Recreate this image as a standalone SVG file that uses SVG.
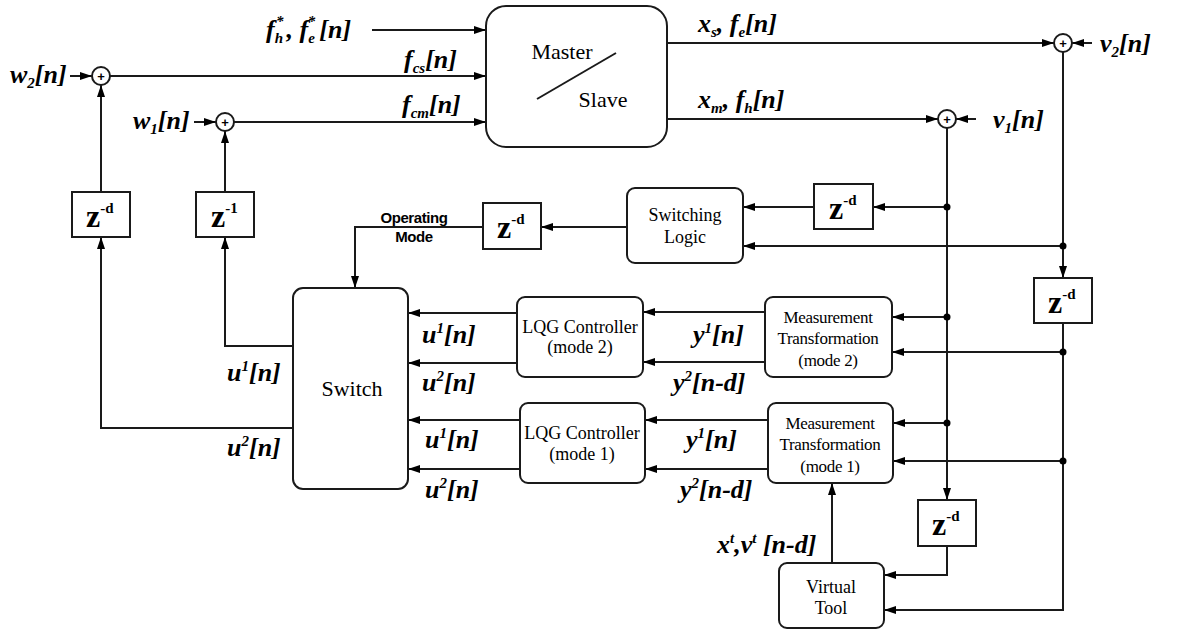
<svg xmlns="http://www.w3.org/2000/svg" width="1180" height="633" viewBox="0 0 1180 633">
<defs>
<marker id="ah" viewBox="0 0 12 8" refX="12" refY="4" markerWidth="12" markerHeight="8" markerUnits="userSpaceOnUse" orient="auto">
<path d="M0,0 L12,4 L0,8 z" fill="#000"/>
</marker>
<style>
.box{fill:#fff;stroke:#1a1a1a;stroke-width:2}
.ln{fill:none;stroke:#1a1a1a;stroke-width:2}
.ar{fill:none;stroke:#1a1a1a;stroke-width:2;marker-end:url(#ah)}
.dot{fill:#000}
.m{font-style:italic;font-weight:bold;font-size:26px;fill:#000}
.s{font-size:15px}
.t{font-size:18px;fill:#000;text-anchor:middle}
.tb{font-size:22px;fill:#000;text-anchor:middle}
.mt{font-size:17px;fill:#000;text-anchor:middle;letter-spacing:-0.3px}
.z{font-weight:bold;font-size:32px;fill:#000}
.zs{font-size:15px}
.op{font-weight:bold;font-size:15px;fill:#000;text-anchor:middle;letter-spacing:-0.4px}
.plus{font-size:13px;font-weight:bold;fill:#000;text-anchor:middle}
</style>
</defs>

<g id="connectors">
<line class="ar" x1="372" y1="30" x2="486" y2="30"/>
<line class="ar" x1="70" y1="76" x2="92" y2="76"/>
<line class="ar" x1="110" y1="76" x2="486" y2="76"/>
<line class="ar" x1="194" y1="122" x2="216" y2="122"/>
<line class="ar" x1="234" y1="122" x2="486" y2="122"/>
<line class="ar" x1="667" y1="43" x2="1054" y2="43"/>
<line class="ar" x1="1092" y1="43" x2="1072" y2="43"/>
<line class="ar" x1="667" y1="119" x2="938" y2="119"/>
<line class="ar" x1="976" y1="119" x2="956" y2="119"/>
<line class="ar" x1="947" y1="128" x2="947" y2="500"/>
<line class="ar" x1="1063" y1="52" x2="1063" y2="278"/>
<line class="ar" x1="947" y1="207" x2="873" y2="207"/>
<line class="ar" x1="814" y1="207" x2="743" y2="207"/>
<line class="ar" x1="1063" y1="246" x2="743" y2="246"/>
<line class="ar" x1="627" y1="227" x2="541" y2="227"/>
<polyline class="ar" points="483,227 355,227 355,288"/>
<line class="ar" x1="947" y1="317" x2="892" y2="317"/>
<polyline class="ar" points="1063,323 1063,610 884,610"/>
<line class="ar" x1="1063" y1="352" x2="892" y2="352"/>
<line class="ar" x1="765" y1="312" x2="643" y2="312"/>
<line class="ar" x1="765" y1="362" x2="643" y2="362"/>
<line class="ar" x1="517" y1="313" x2="408" y2="313"/>
<line class="ar" x1="517" y1="363" x2="408" y2="363"/>
<line class="ar" x1="947" y1="423" x2="893" y2="423"/>
<line class="ar" x1="1063" y1="461" x2="893" y2="461"/>
<line class="ar" x1="768" y1="420" x2="645" y2="420"/>
<line class="ar" x1="768" y1="469" x2="645" y2="469"/>
<line class="ar" x1="520" y1="420" x2="408" y2="420"/>
<line class="ar" x1="520" y1="469" x2="408" y2="469"/>
<polyline class="ar" points="947,546 947,575 884,575"/>
<line class="ar" x1="832" y1="563" x2="832" y2="483"/>
<polyline class="ar" points="293,346 225,346 225,237"/>
<polyline class="ar" points="293,428 101,428 101,237"/>
<line class="ar" x1="101" y1="192" x2="101" y2="85"/>
<line class="ar" x1="225" y1="192" x2="225" y2="131"/>
<circle class="dot" cx="947" cy="207" r="3.5"/>
<circle class="dot" cx="947" cy="317" r="3.5"/>
<circle class="dot" cx="947" cy="423" r="3.5"/>
<circle class="dot" cx="1063" cy="246" r="3.5"/>
<circle class="dot" cx="1063" cy="352" r="3.5"/>
<circle class="dot" cx="1063" cy="461" r="3.5"/>
</g>

<g font-family="Liberation Sans, Arial, sans-serif">
<g id="sum-w2"><circle class="box" cx="101" cy="76" r="9"/><text class="plus" x="101" y="81">+</text></g>
<g id="sum-w1"><circle class="box" cx="225" cy="122" r="9"/><text class="plus" x="225" y="127">+</text></g>
<g id="sum-v2"><circle class="box" cx="1063" cy="43" r="9"/><text class="plus" x="1063" y="48">+</text></g>
<g id="sum-v1"><circle class="box" cx="947" cy="119" r="9"/><text class="plus" x="947" y="124">+</text></g>
<g id="operating-mode-label">
<text class="op" x="414" y="223">Operating</text>
<text class="op" x="414" y="242">Mode</text>
</g>
</g>

<g font-family="Liberation Serif, DejaVu Serif, serif">
<g id="master-slave">
<rect class="box" x="486" y="6" width="181" height="141" rx="20"/>
<text class="tb" x="562" y="59">Master</text>
<line class="ln" x1="537" y1="99" x2="616" y2="53"/>
<text class="tb" x="603" y="107">Slave</text>
</g>

<g id="delay-w2"><rect class="box" x="72" y="192" width="58" height="45"/><text class="z" x="86" y="227">z<tspan class="zs" dy="-14">-d</tspan></text></g>
<g id="delay-w1"><rect class="box" x="196" y="192" width="58" height="45"/><text class="z" x="211" y="227">z<tspan class="zs" dy="-14">-1</tspan></text></g>
<g id="delay-mode"><rect class="box" x="483" y="203" width="58" height="46"/><text class="z" x="497" y="238">z<tspan class="zs" dy="-14">-d</tspan></text></g>
<g id="delay-sl"><rect class="box" x="814" y="184" width="59" height="45"/><text class="z" x="829" y="219">z<tspan class="zs" dy="-14">-d</tspan></text></g>
<g id="delay-right"><rect class="box" x="1034" y="278" width="58" height="45"/><text class="z" x="1048" y="313">z<tspan class="zs" dy="-14">-d</tspan></text></g>
<g id="delay-vt"><rect class="box" x="918" y="500" width="58" height="46"/><text class="z" x="932" y="535">z<tspan class="zs" dy="-14">-d</tspan></text></g>

<g id="switching-logic">
<rect class="box" x="627" y="188" width="116" height="75" rx="8"/>
<text class="t" x="685" y="221">Switching</text>
<text class="t" x="685" y="243">Logic</text>
</g>

<g id="switch">
<rect class="box" x="293" y="288" width="115" height="201" rx="10"/>
<text class="tb" x="352" y="396">Switch</text>
</g>

<g id="lqg2">
<rect class="box" x="517" y="297" width="126" height="80" rx="8"/>
<text class="t" x="580" y="333">LQG Controller</text>
<text class="t" x="580" y="353">(mode 2)</text>
</g>
<g id="lqg1">
<rect class="box" x="520" y="403" width="125" height="80" rx="8"/>
<text class="t" x="582" y="439">LQG Controller</text>
<text class="t" x="582" y="460">(mode 1)</text>
</g>
<g id="mt2">
<rect class="box" x="765" y="297" width="127" height="80" rx="8"/>
<text class="mt" x="828" y="323">Measurement</text>
<text class="mt" x="828" y="344">Transformation</text>
<text class="mt" x="828" y="366">(mode 2)</text>
</g>
<g id="mt1">
<rect class="box" x="768" y="403" width="125" height="80" rx="8"/>
<text class="mt" x="830" y="429">Measurement</text>
<text class="mt" x="830" y="450">Transformation</text>
<text class="mt" x="830" y="472">(mode 1)</text>
</g>
<g id="virtual-tool">
<rect class="box" x="779" y="563" width="105" height="65" rx="8"/>
<text class="t" x="831" y="593">Virtual</text>
<text class="t" x="831" y="614">Tool</text>
</g>

<g id="labels">
<text class="m" x="266" y="38">f<tspan class="s" dy="5">h</tspan><tspan class="s" dx="-7" dy="-17">*</tspan><tspan dx="3" dy="12">, f</tspan><tspan class="s" dy="5">e</tspan><tspan class="s" dx="-7" dy="-17">*</tspan><tspan dx="4" dy="12">[n]</tspan></text>
<text class="m" x="10" y="83">w<tspan class="s" dy="5">2</tspan><tspan dy="-5">[n]</tspan></text>
<text class="m" x="133" y="129">w<tspan class="s" dy="5">1</tspan><tspan dy="-5">[n]</tspan></text>
<text class="m" x="404" y="68">f<tspan class="s" dy="5">cs</tspan><tspan dy="-5">[n]</tspan></text>
<text class="m" x="402" y="113">f<tspan class="s" dy="5">cm</tspan><tspan dy="-5">[n]</tspan></text>
<text class="m" x="698" y="32">x<tspan class="s" dy="5">s</tspan><tspan dy="-5">, f</tspan><tspan class="s" dy="5">e</tspan><tspan dy="-5">[n]</tspan></text>
<text class="m" x="698" y="108">x<tspan class="s" dy="5">m</tspan><tspan dy="-5">, f</tspan><tspan class="s" dy="5">h</tspan><tspan dy="-5">[n]</tspan></text>
<text class="m" x="1100" y="52">v<tspan class="s" dy="5">2</tspan><tspan dy="-5">[n]</tspan></text>
<text class="m" x="993" y="128">v<tspan class="s" dy="5">1</tspan><tspan dy="-5">[n]</tspan></text>
<text class="m" x="227" y="381">u<tspan class="s" dy="-10">1</tspan><tspan dy="10">[n]</tspan></text>
<text class="m" x="227" y="456">u<tspan class="s" dy="-10">2</tspan><tspan dy="10">[n]</tspan></text>
<text class="m" x="422" y="343">u<tspan class="s" dy="-10">1</tspan><tspan dy="10">[n]</tspan></text>
<text class="m" x="422" y="391">u<tspan class="s" dy="-10">2</tspan><tspan dy="10">[n]</tspan></text>
<text class="m" x="425" y="448">u<tspan class="s" dy="-10">1</tspan><tspan dy="10">[n]</tspan></text>
<text class="m" x="425" y="498">u<tspan class="s" dy="-10">2</tspan><tspan dy="10">[n]</tspan></text>
<text class="m" x="693" y="343">y<tspan class="s" dy="-10">1</tspan><tspan dy="10">[n]</tspan></text>
<text class="m" x="673" y="391">y<tspan class="s" dy="-10">2</tspan><tspan dy="10">[n-d]</tspan></text>
<text class="m" x="686" y="448">y<tspan class="s" dy="-10">1</tspan><tspan dy="10">[n]</tspan></text>
<text class="m" x="680" y="498">y<tspan class="s" dy="-10">2</tspan><tspan dy="10">[n-d]</tspan></text>
<text class="m" x="717" y="553">x<tspan class="s" dy="-10">t</tspan><tspan dy="10">,v</tspan><tspan class="s" dy="-10">t</tspan><tspan dy="10"> [n-d]</tspan></text>
</g>
</g>
</svg>
